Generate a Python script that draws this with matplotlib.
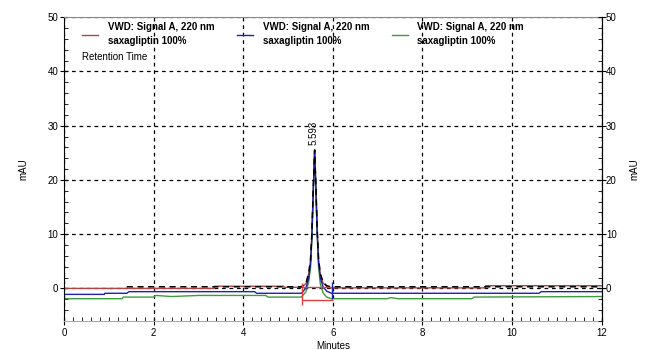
import numpy as np
import matplotlib.pyplot as plt
from matplotlib.ticker import MultipleLocator

plt.rcParams['font.family'] = ['Liberation Sans', 'DejaVu Sans']

# peak retention time (min)
peak_rt = 5.593

# red trace (min, mAU)
red_t = [0, 3.35, 3.36, 4.9, 4.91, 5.30, 5.40, 5.46, 5.50, 5.53, 5.56, 5.593, 5.62, 5.65, 5.68, 5.72, 5.78, 5.86, 5.95, 9.4, 9.41, 12]
red_y = [0.0, 0.0, 0.4, 0.4, 0.2, 0.2, 0.9, 2.6, 5.0, 9.8, 17.8, 25.3, 18.8, 10.8, 5.3, 2.5, 1.0, 0.4, 0.1, 0.1, 0.5, 0.5]

# blue trace
blue_t = [0, 0.9, 0.91, 1.4, 1.45, 4.25, 4.3, 5.30, 5.40, 5.46, 5.50, 5.53, 5.56, 5.593, 5.62, 5.65, 5.68, 5.72, 5.78, 5.86, 5.97, 10.6, 10.65, 12]
blue_y = [-1.1, -1.1, -0.9, -0.9, -0.6, -0.6, -0.9, -0.9, 0.1, 1.9, 4.4, 9.4, 17.6, 25.4, 18.6, 10.4, 4.8, 1.9, 0.3, -0.5, -0.9, -0.9, -0.6, -0.6]

# green trace
green_t = [0, 1.3, 1.32, 2.0, 2.05, 2.4, 3.0, 4.5, 4.55, 5.30, 5.40, 5.46, 5.50, 5.53, 5.56, 5.593, 5.62, 5.65, 5.68, 5.72, 5.78, 5.86, 5.97, 7.2, 7.3, 7.45, 9.1, 9.15, 12]
green_y = [-1.9, -1.9, -1.6, -1.6, -1.3, -1.5, -1.3, -1.3, -1.6, -1.6, -0.6, 1.2, 3.8, 8.6, 17.0, 25.6, 18.4, 9.8, 4.0, 0.8, -0.8, -1.6, -1.9, -1.9, -1.7, -1.9, -1.9, -1.6, -1.5]

# black dashed signal
sig_t = [1.4, 5.30, 5.40, 5.46, 5.50, 5.53, 5.56, 5.593, 5.62, 5.65, 5.68, 5.72, 5.78, 5.86, 5.95, 12]
sig_y = [0.3, 0.3, 1.0, 2.8, 5.2, 10.0, 18.0, 25.5, 19.0, 11.0, 5.5, 2.7, 1.2, 0.5, 0.3, 0.3]

# integration marks
red_vt, red_vlo, red_vhi = 5.30, -3.1, 1.0
red_h_y = [0.2, -2.2]
red_h_t0, red_h_t1 = 5.30, 6.0
blue_vt, blue_vlo, blue_vhi = 5.97, -2.0, 1.1

legend_label = 'VWD: Signal A, 220 nm\nsaxagliptin 100%'

c_red = '#b04444'
c_blue = '#1f1fb4'
c_green = '#3c9c3c'

fig = plt.figure(figsize=(6.47, 3.5), dpi=100)
ax = fig.add_axes([0.099, 0.083, 0.831, 0.868])

l1, = ax.plot(red_t, red_y, color=c_red, lw=1)
l3, = ax.plot(green_t, green_y, color=c_green, lw=1)
l2, = ax.plot(blue_t, blue_y, color=c_blue, lw=1)
ax.plot(sig_t, sig_y, color='black', lw=1.1, ls=(0, (4, 3)))

ax.vlines(red_vt, red_vlo, red_vhi, color='#e04040', lw=1)
ax.hlines(red_h_y, red_h_t0, red_h_t1, color='#e04040', lw=1)
ax.vlines(blue_vt, blue_vlo, blue_vhi, color=c_blue, lw=1)

ax.text(peak_rt - 0.02, 26.5, '%.3f' % peak_rt, rotation=90, ha='center', va='bottom', fontsize=7)

ax.set_xlim(0, 12)
ax.set_ylim(-6, 50)
ax.set_xticks([0, 2, 4, 6, 8, 10, 12])
ax.set_yticks([0, 10, 20, 30, 40, 50])
ax.xaxis.set_minor_locator(MultipleLocator(0.2))
ax.yaxis.set_minor_locator(MultipleLocator(2))
ax.grid(True, which='major', color='black', ls=(0, (3, 3)), lw=0.9)
ax.tick_params(axis='both', which='major', labelsize=7, direction='inout', length=6, width=0.8)
ax.tick_params(axis='both', which='minor', direction='in', length=3, width=0.6)
ax.tick_params(axis='y', pad=1)
ax.tick_params(axis='x', pad=2)
ax.spines['top'].set_color('#888888')
ax.spines['bottom'].set_color('#aaaaaa')
ax.set_ylabel('mAU', fontsize=7, labelpad=14)
ax.set_xlabel('Minutes', fontsize=7, labelpad=2)

ax2 = ax.twinx()
ax2.set_ylim(-6, 50)
ax2.set_yticks([0, 10, 20, 30, 40, 50])
ax2.yaxis.set_minor_locator(MultipleLocator(2))
ax2.tick_params(axis='y', which='major', labelsize=7, direction='inout', length=6, width=0.8, pad=0)
ax2.tick_params(axis='y', which='minor', direction='in', length=3, width=0.6)
ax2.set_ylabel('mAU', fontsize=7, labelpad=9)
for s in ['top', 'bottom', 'left']:
    ax2.spines[s].set_visible(False)

leg = ax.legend([l1, l2, l3], [legend_label] * 3, ncol=3, loc='upper left',
                bbox_to_anchor=(0.018, 1.012), frameon=False,
                prop={'weight': 'bold', 'size': 7}, handlelength=1.6,
                handletextpad=1.0, columnspacing=2.35, labelspacing=0.2)
for t in leg.get_texts():
    t.set_linespacing(1.5)
ax.text(0.033, 0.87, 'Retention Time', transform=ax.transAxes, fontsize=7, va='center')

fig.savefig('out.png', dpi=100)
